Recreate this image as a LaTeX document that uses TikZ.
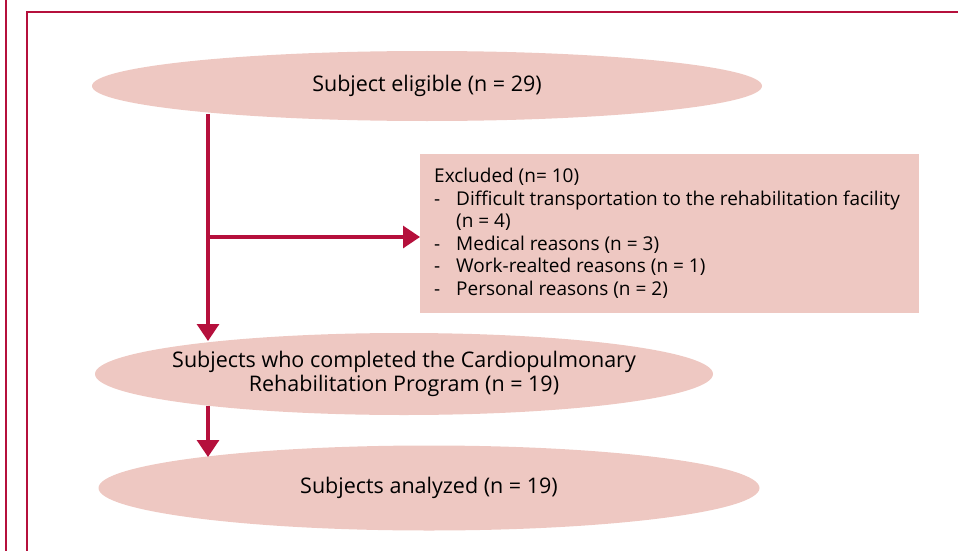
\documentclass[tikz,border=0pt]{standalone}
\usepackage{fontspec}
\setmainfont{Open Sans}
\usetikzlibrary{shapes.geometric,arrows.meta}
\definecolor{crim}{HTML}{B5103C}
\definecolor{pinkfill}{HTML}{EEC8C2}
\newcommand{\dashitem}{\makebox[22pt][l]{-}}
\tikzset{
  oval/.style={ellipse,fill=pinkfill,inner sep=0pt,inner xsep=-40pt,align=center,font=\fontsize{21.5}{24}\selectfont},
  exbox/.style={rectangle,fill=pinkfill,inner sep=0pt,anchor=north west},
  frame/.style={draw=crim,line width=2.8pt},
  flow/.style={draw=crim,line width=3.2pt,-{Triangle[width=22pt,length=17pt]}},
}
\begin{document}
\begin{tikzpicture}[x=1pt,y=-1pt]
\useasboundingbox (0,0) rectangle (958,551);
% frame
\coordinate (f1a) at (6,0);
\coordinate (f1b) at (6,551);
\draw[frame] (f1a) -- (f1b);
\coordinate (f2a) at (27,551);
\coordinate (f2b) at (27,12);
\coordinate (f2c) at (958,12);
\draw[frame] (f2a) -- (f2b) -- (f2c);
% nodes
\node[oval,minimum width=670pt,minimum height=70pt] (e1) at (427,86) {Subject eligible (n = 29)};
\node[oval,minimum width=618pt,minimum height=82pt] (e2) at (404,374) {Subjects who completed the Cardiopulmonary\\Rehabilitation Program (n = 19)};
\node[oval,minimum width=661pt,minimum height=85pt] (e3) at (429,488) {Subjects analyzed (n = 19)};
\node[exbox,minimum width=499pt,minimum height=159pt] (ex) at (420,154) {};
\node[anchor=north west,inner sep=0pt,align=left,font=\fontsize{19}{22.5}\selectfont] (extext) at (434,168) {%
Excluded (n= 10)\\
\dashitem Difficult transportation to the rehabilitation facility\\
\hspace*{22pt}(n = 4)\\
\dashitem Medical reasons (n = 3)\\
\dashitem Work-realted reasons (n = 1)\\
\dashitem Personal reasons (n = 2)};
% connectors
\coordinate (s1) at (208,114);
\coordinate (t1) at (208,341);
\coordinate (b1) at (208,237);
\coordinate (s3) at (208,406);
\coordinate (t3) at (208,457);
\draw[flow] (s1) -- (t1);
\draw[flow] (b1) -- (b1 -| ex.west);
\draw[flow] (s3) -- (t3);
\end{tikzpicture}
\end{document}
